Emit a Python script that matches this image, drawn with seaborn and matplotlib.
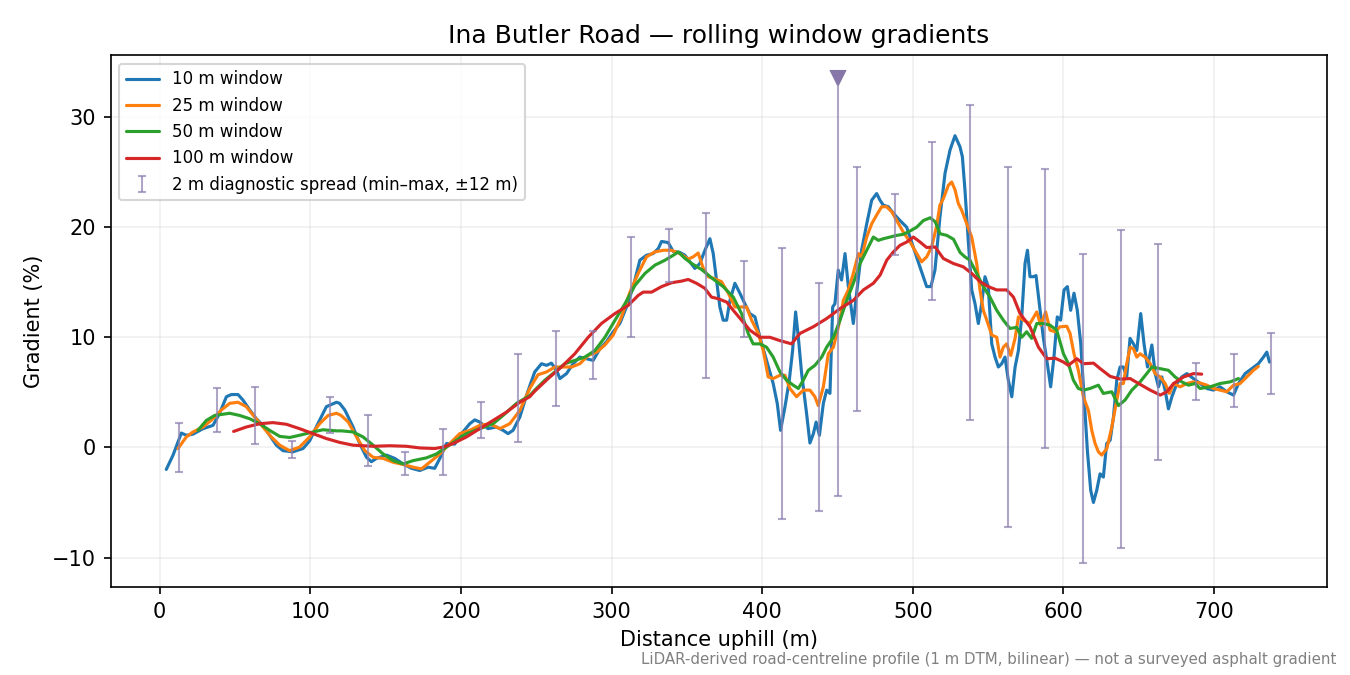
import numpy as np
import pandas as pd
import matplotlib
matplotlib.use("Agg")
import matplotlib.pyplot as plt
import seaborn as sns

# 10 m window (distance m, gradient %)
dist_10 = [4.4, 8.9, 14.4, 17.7, 22.1, 28.8, 35.4, 39.8, 44.3, 47.6, 52, 55.3, 59.8, 64.2, 68.6, 73, 77.5,
           81.9, 88.5, 95.2, 99.6, 105.2, 110.7, 117.4, 119.5, 122.9, 124, 128.4, 132.8, 137.3, 140.6, 143.9,
           150.6, 156.1, 161.6, 167.2, 172.7, 178.2, 182.6, 186, 190.4, 195.9, 200.4, 205.9, 209.2, 212.5,
           218, 223.6, 228, 231.3, 234.6, 239.1, 243.5, 246, 249, 253.5, 256.8, 260.1, 263.5, 265.7, 270.1,
           274.5, 278.9, 283.4, 287.8, 292.2, 296.7, 301.1, 305.5, 309.9, 314.4, 318.8, 323.2, 327.6, 331,
           333.2, 337.6, 340.9, 345.4, 348.7, 352, 355.3, 358.6, 362, 365.3, 367.5, 369.7, 371.9, 374.1,
           376.4, 378.6, 381.9, 385.2, 388.5, 391.8, 395.2, 398.5, 402.9, 407.3, 410, 412.2, 415.1, 418,
           420.2, 422.2, 424, 426.2, 429.5, 431.7, 434, 435.8, 438, 440.6, 442.8, 445, 446.8, 448.3, 450.5,
           452.7, 455, 457.2, 460.5, 462.7, 466, 469.4, 472.7, 476, 478.2, 480.4, 483.8, 487.1, 491.5,
           495.9, 500.3, 504.7, 509.2, 512, 514.7, 518, 521.4, 524.7, 528, 531.3, 532.9, 534.6, 536.8,
           539.1, 541.3, 543.5, 545.7, 547.9, 550.1, 552.4, 554.6, 556.8, 559, 561.2, 563.4, 565.7, 567.9,
           570.1, 572.3, 574.5, 576.1, 577.8, 580, 581.8, 584, 586.6, 589.3, 591.5, 593.7, 595.9, 598.1,
           600.4, 602.6, 604.8, 607, 609.2, 611.5, 613.7, 615.9, 618.1, 619.9, 622.1, 624.3, 626.5, 628.7,
           631, 633.2, 635.4, 637.6, 639.8, 642, 644.2, 646.5, 648.7, 651.3, 653.5, 655.8, 658.7, 660.9,
           663.1, 665.3, 667.5, 669.7, 672, 675.3, 678.6, 681.9, 686.3, 690.7, 695.2, 699.6, 704, 708.4,
           712.9, 716.2, 720.6, 725, 729.4, 732.8, 735, 736.8]
grad_10 = [-2.0, -0.7, 1.3, 1.1, 1.2, 1.7, 2.0, 3.1, 4.6, 4.8, 4.8, 4.3, 3.4, 2.6, 2.0, 1.1, 0.2,
           -0.3, -0.4, -0.1, 0.6, 2.2, 3.7, 4.1, 4.0, 3.4, 3.1, 1.85, 0.35, -0.9, -1.3, -1.0,
           -0.7, -1.0, -1.5, -1.9, -2.1, -1.8, -1.9, -1.0, 0.35, 0.3, 1.25, 2.15, 2.5, 2.3,
           1.7, 1.85, 1.55, 1.25, 1.55, 2.75, 4.7, 5.7, 6.85, 7.6, 7.45, 7.65, 7.0, 6.25, 6.7,
           7.6, 8.2, 8.05, 7.9, 8.95, 9.6, 10.5, 11.25, 12.75, 14.6, 17.0, 17.45, 17.6, 18.05,
           18.7, 18.6, 17.8, 17.7, 17.45, 16.85, 16.25, 16.7, 17.9, 18.95, 17.6, 15.2, 12.75, 11.55,
           11.55, 13.35, 14.9, 14.0, 13.05, 12.15, 11.85, 10.0, 7.9, 5.8, 4.0, 1.55, 3.65, 6.1,
           8.8, 12.3, 10.0, 6.7, 3.05, 0.4, 1.25, 2.3, 1.1, 4.0, 5.2, 4.9, 12.75, 13.05, 16.1,
           15.2, 17.6, 14.6, 11.25, 14.0, 17.9, 20.3, 22.45, 23.05, 22.45, 22.0, 21.85, 21.25, 20.6,
           20.0, 18.2, 16.4, 14.6, 14.6, 16.1, 20.9, 24.9, 27.0, 28.3, 27.3, 26.4, 23.4, 18.8,
           14.3, 13.05, 11.25, 13.05, 15.5, 14.6, 9.4, 8.2, 7.3, 7.6, 8.2, 6.1, 4.6, 7.3,
           8.8, 11.85, 16.7, 17.9, 15.5, 15.5, 15.6, 13.05, 10.0, 7.6, 5.5, 8.2, 11.85, 11.55,
           14.3, 14.6, 12.45, 14.0, 12.45, 9.4, 4.6, -0.3, -3.9, -5.0, -3.9, -2.4, -2.7, 0.35,
           0.65, 2.75, 6.1, 7.3, 7.3, 6.4, 9.9, 9.4, 8.8, 12.15, 9.4, 7.3, 9.3, 6.7,
           5.5, 6.4, 5.2, 3.5, 4.6, 5.8, 6.4, 6.7, 6.25, 5.8, 5.35, 5.2, 5.5, 5.05,
           4.75, 5.8, 6.7, 7.15, 7.6, 8.2, 8.65, 7.75]

# 25 m window
dist_25 = [12.2, 17.7, 22.1, 28.8, 35.4, 41, 46.5, 52, 57.5, 63.1, 68.6, 74.1, 79.7, 86.3, 92.9, 99.6,
           106.2, 111.8, 117.4, 120.5, 125.2, 130.7, 136.2, 141.7, 148.4, 155, 161.6, 168.3, 173.8, 179.3,
           186, 192.6, 199.2, 205.9, 212.5, 219.1, 225.8, 232.4, 239.1, 245.7, 251.2, 256.8, 262.4, 267.9,
           273.5, 279, 284.5, 290.1, 295.6, 301.1, 306.6, 312.2, 317.7, 323.2, 328.7, 334.3, 339.8, 345.4,
           350.9, 354.2, 357.5, 360.8, 364.2, 368.6, 373, 377.5, 381.9, 386.3, 389.6, 393, 397.4, 400.7,
           404, 407.3, 411.8, 415.1, 418.4, 422.8, 427.3, 431.7, 435, 437.2, 440.6, 443.9, 447.3, 450.6,
           453.9, 457.2, 460.5, 463.9, 466.1, 469.4, 472.7, 476, 479.3, 482.6, 486, 489.3, 493.7, 498.2,
           502.6, 505.9, 509.2, 512.5, 515.8, 518, 520.3, 523.6, 525.8, 528, 530.2, 532.4, 535.8, 539.1,
           542.4, 544.6, 546.8, 549.1, 552.4, 555.7, 557.9, 560.1, 562.3, 565, 567.9, 570.1, 573.5, 577.8,
           582.3, 584.9, 588.2, 591.1, 594.4, 597.7, 602.2, 604.4, 607, 609.9, 613.2, 616.6, 618.8, 621,
           623.2, 625.4, 628.8, 632.1, 635.4, 637.6, 639.8, 642, 644.3, 646.5, 648.7, 650.9, 654.2, 657.6,
           660.9, 664.2, 667.5, 670.4, 673.1, 677.5, 681.9, 686.3, 690.7, 695.2, 699.6, 704, 708.4, 712.9,
           717.3, 721.7, 726.1, 729.4]
grad_25 = [-0.1, 0.95, 1.4, 1.85, 2.6, 3.4, 4.0, 4.1, 3.7, 2.75, 1.85, 0.95, 0.2, -0.3, 0.03, 0.95,
           2.15, 2.9, 3.1, 2.9, 2.3, 0.95, -0.3, -0.9, -1.0, -1.35, -1.55, -1.8, -1.95, -1.35,
           -0.6, 0.35, 1.25, 1.55, 2.0, 2.15, 1.7, 2.15, 3.35, 5.35, 6.6, 6.85, 7.3, 7.3,
           7.3, 7.6, 8.35, 8.65, 9.3, 10.2, 11.85, 14.1, 15.8, 17.3, 17.75, 17.9, 17.9, 17.6,
           17.1, 17.3, 17.65, 16.3, 15.5, 15.3, 15.05, 14.0, 12.75, 12.75, 12.75, 11.55, 10.35, 8.8,
           6.4, 6.25, 6.55, 6.55, 5.35, 4.6, 5.2, 5.2, 4.6, 3.8, 5.5, 8.5, 9.1, 10.95,
           13.35, 14.3, 15.8, 17.6, 17.3, 19.1, 20.3, 21.1, 21.85, 21.85, 21.4, 20.6, 19.55, 18.65,
           17.6, 16.85, 17.3, 18.2, 20.1, 22.0, 22.6, 23.8, 24.1, 23.4, 22.15, 21.55, 20.3, 19.1,
           16.7, 14.3, 12.45, 11.55, 10.2, 10.0, 8.2, 9.1, 9.4, 8.35, 9.9, 11.85, 11.55, 11.25,
           12.3, 11.1, 12.3, 10.65, 10.5, 10.95, 11.0, 10.35, 8.5, 7.0, 4.6, 3.35, 1.55, 0.35,
           -0.4, -0.7, -0.1, 1.85, 4.3, 5.8, 5.8, 7.6, 9.1, 8.95, 8.2, 8.5, 8.2, 7.6,
           6.7, 6.4, 5.8, 4.9, 5.8, 5.5, 5.8, 5.95, 5.85, 5.65, 5.35, 5.2, 5.05, 5.65,
           5.8, 6.4, 7.0, 7.35]

# 50 m window
dist_50 = [25.4, 31, 36.5, 46.5, 53.1, 59.8, 66.4, 73, 79.7, 86.3, 92.9, 101.8, 108.4, 117.4, 121, 128.4,
           135, 141.7, 148.4, 155, 161.6, 168.3, 177.1, 183.7, 190.4, 197, 203.7, 212.5, 221.4, 228, 236.9,
           245.7, 249, 255.7, 262.4, 269, 275.7, 282.3, 289, 295.6, 302.3, 308.9, 315.5, 322.2, 328.8, 335.5,
           341, 344.3, 348.8, 353.2, 359.8, 366.4, 374.1, 380.8, 386.3, 390.7, 394, 398.5, 402.9, 407.3,
           411.8, 416.2, 420.6, 424, 427.3, 430.6, 435, 439.5, 442.8, 447.3, 451.7, 456.1, 460.5, 465,
           469.4, 473.8, 477.1, 480.5, 484.9, 489.3, 493.7, 498.2, 502.6, 507, 511.5, 514.8, 518.1, 522.6,
           527, 531.4, 534.6, 537.9, 542.4, 546.8, 551.2, 555.7, 560.1, 564.5, 569, 572.3, 575.6, 578.9,
           582.3, 586.7, 591.1, 595.5, 600, 603.3, 606.6, 609.9, 613.2, 617.7, 623.2, 626.5, 632.1, 636.5,
           640.9, 645.4, 650.9, 655.3, 658.7, 664.2, 669.7, 674.1, 678.6, 683, 687.4, 690.7, 697.4, 704,
           710.7, 716.2]
grad_50 = [1.55, 2.45, 2.9, 3.1, 2.9, 2.6, 2.15, 1.55, 1.0, 0.9, 1.1, 1.4, 1.6, 1.5, 1.5, 1.4,
           0.95, 0.2, -0.6, -1.2, -1.5, -1.2, -0.95, -0.6, 0.03, 0.65, 1.25, 1.7, 2.15, 2.9, 4.0,
           4.7, 5.2, 6.1, 6.85, 7.6, 7.9, 8.2, 8.8, 10.0, 11.55, 13.05, 14.7, 15.8, 16.55, 17.0,
           17.45, 17.75, 17.15, 16.7, 16.15, 15.4, 14.6, 13.65, 12.15, 10.35, 9.4, 9.4, 9.1, 8.2,
           6.85, 6.1, 5.65, 5.35, 6.1, 7.0, 7.45, 8.2, 9.1, 10.0, 11.55, 13.35, 14.9, 16.7,
           17.9, 19.1, 18.8, 18.95, 19.1, 19.25, 19.35, 19.65, 20.0, 20.6, 20.85, 20.5, 19.4, 19.25,
           18.9, 17.7, 17.3, 17.0, 15.8, 14.6, 13.65, 12.45, 11.55, 10.8, 10.9, 10.0, 10.5, 9.9,
           11.25, 11.25, 11.1, 10.65, 8.5, 7.6, 6.1, 5.35, 5.2, 5.35, 5.65, 4.9, 5.05, 3.8,
           4.3, 5.2, 5.95, 6.7, 7.3, 7.15, 7.0, 6.4, 5.95, 5.65, 5.8, 5.35, 5.5, 5.8,
           5.95, 6.25]

# 100 m window
dist_100 = [49.1, 57.5, 66.4, 75.2, 84.1, 92.9, 101.8, 110.7, 119.6, 128.4, 141.7, 152.8, 163.9, 172.7,
            182.6, 188.2, 194.8, 203.7, 212.5, 221.4, 230.2, 239.1, 245.7, 249, 257.9, 266.7, 275.6, 284.5,
            293.3, 302.2, 311.1, 317.7, 321, 326.6, 333.2, 339.8, 346.5, 350.9, 356.4, 361.9, 366.3, 370.8,
            376.4, 380.8, 386.3, 391.8, 398.5, 405.1, 411.7, 419.5, 425.1, 433.9, 442.8, 451.7, 460.5,
            467.2, 473.8, 478.3, 482.7, 487.1, 491.5, 496, 500.4, 504.8, 509.2, 514.8, 520.3, 526.9, 533.5,
            539.1, 544.6, 550.1, 555.7, 562.3, 566.8, 571.2, 577.8, 583.4, 588.9, 594.5, 600, 603.3, 608.9,
            613.3, 620, 624.4, 631, 637.7, 644.3, 649.9, 657.6, 664.3, 668.7, 673.1, 679.8, 686.3, 691.8]
grad_100 = [1.45, 1.85, 2.15, 2.25, 2.1, 1.7, 1.25, 0.8, 0.45, 0.2, 0.1, 0.15, 0.1, -0.05,
            -0.1, 0.03, 0.35, 0.95, 1.7, 2.45, 3.2, 4.1, 4.6, 5.1, 6.25, 7.3, 8.5, 10.0,
            11.25, 12.15, 12.9, 13.8, 14.1, 14.1, 14.6, 14.95, 15.1, 15.25, 14.9, 14.45, 13.65, 13.5,
            13.2, 12.45, 11.55, 10.65, 10.0, 10.0, 9.7, 9.4, 10.35, 10.95, 11.7, 12.6, 13.35,
            14.3, 14.9, 15.65, 17.0, 17.75, 18.35, 18.65, 19.1, 18.65, 18.15, 18.2, 17.15, 16.7, 16.4,
            15.8, 15.05, 14.6, 14.3, 14.3, 13.65, 12.15, 10.95, 9.1, 8.05, 8.1, 7.75, 7.45, 8.05,
            7.6, 7.65, 7.15, 6.45, 6.2, 6.25, 5.8, 5.2, 4.75, 5.05, 5.8, 6.4, 6.7, 6.65]

# 2 m diagnostic spread, min-max within +-12 m
spread_x = [13, 38, 63, 88, 113, 138, 163, 188, 213, 238, 263, 288, 313, 338, 363,
            388, 413, 438, 463, 488, 513, 538, 563, 588, 613, 638, 663, 688, 713, 738]
spread_lo = [-2.2, 1.4, 0.35, -1.0, 1.3, -1.7, -2.5, -2.5, 0.85, 0.5, 3.75, 6.2, 10.0, 15.0, 6.3,
             10.0, -6.5, -5.8, 3.3, 17.5, 13.4, 2.5, -7.2, -0.05, -10.5, -9.15, -1.15, 4.3, 3.7, 4.85]
spread_hi = [2.2, 5.4, 5.5, 0.55, 4.6, 2.9, -0.45, 1.67, 4.15, 8.5, 10.6, 10.6, 19.1, 19.8, 21.3,
             16.9, 18.1, 14.9, 25.5, 23.0, 27.75, 31.1, 25.5, 25.3, 17.6, 19.7, 18.5, 7.7, 8.45, 10.35]

# steepest-point spread, top runs off the chart
peak_x = [450.5]
peak_lo = [-4.4]
peak_hi = [41.0]

y_limits = (-12.7, 35.6)

sns.set_style("ticks", rc={
    "text.color": "black",
    "axes.labelcolor": "black",
    "axes.edgecolor": "black",
    "xtick.color": "black",
    "ytick.color": "black",
})
plt.rcParams['font.family'] = ['DejaVu Sans']
palette = sns.color_palette("tab10")

fig, ax = plt.subplots(figsize=(9, 4.5), dpi=150)
fig.subplots_adjust(left=0.082, right=0.983, top=0.918, bottom=0.130)

series = [
    (dist_10, grad_10, "10 m window"),
    (dist_25, grad_25, "25 m window"),
    (dist_50, grad_50, "50 m window"),
    (dist_100, grad_100, "100 m window"),
]
for i, (xs, ys, lab) in enumerate(series):
    df = pd.DataFrame({"dist": xs, "grad": ys})
    sns.lineplot(data=df, x="dist", y="grad", ax=ax, color=palette[i], lw=1.5,
                 label=lab, estimator=None, sort=False)

spread_col = "#8c7fb0"
lo = np.array(spread_lo)
hi = np.array(spread_hi)
ax.errorbar(spread_x, (lo + hi) / 2, yerr=(hi - lo) / 2, fmt="none", ecolor=spread_col,
            elinewidth=1.0, capsize=2, alpha=0.7, label="2 m diagnostic spread (min–max, ±12 m)")

# off-scale spread: clip at the marker
marker_y = y_limits[1] - 2.1
p_lo = np.array(peak_lo)
p_top = np.minimum(np.array(peak_hi), marker_y)
ax.errorbar(peak_x, p_lo, yerr=[np.zeros_like(p_lo), p_top - p_lo], fmt="none",
            ecolor=spread_col, elinewidth=1.0, capsize=2, alpha=0.7)
ax.plot(peak_x, p_top, marker="v", ms=7, color="#8677a8", ls="none")

ax.set_xlim(-32.5, 775)
ax.set_ylim(*y_limits)
ax.set_xticks([0, 100, 200, 300, 400, 500, 600, 700])
ax.set_yticks([-10, 0, 10, 20, 30])
ax.set_yticklabels(["\u221210", "0", "10", "20", "30"])
ax.grid(True, alpha=0.3)
ax.set_xlabel("Distance uphill (m)", fontsize=10)
ax.set_ylabel("Gradient (%)", fontsize=10)
ax.set_title("Ina Butler Road — rolling window gradients", fontsize=12)
ax.legend(loc="upper left", fontsize=8)

fig.text(0.99, 0.012, "LiDAR-derived road-centreline profile (1 m DTM, bilinear) — not a surveyed asphalt gradient",
         ha="right", va="bottom", fontsize=7.2, color="gray")

fig.savefig("out.png", dpi=150)
